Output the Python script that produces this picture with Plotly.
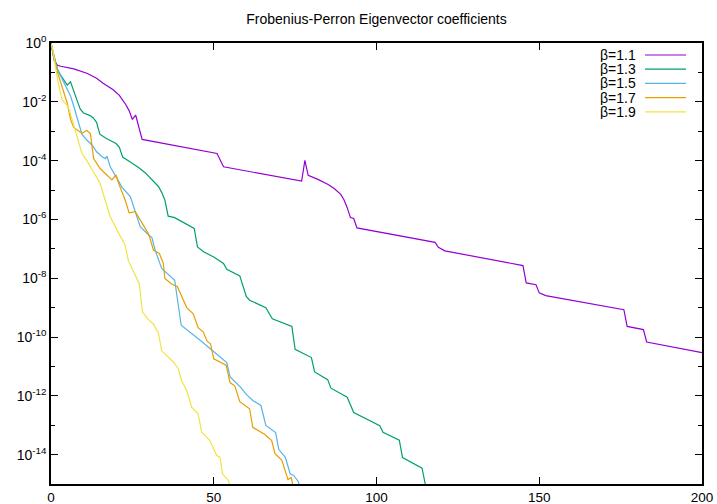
import plotly.graph_objects as go

# ---- data ----
beta_labels = ["β=1.1", "β=1.3", "β=1.5", "β=1.7", "β=1.9"]
colors = ["#9400d3", "#009e73", "#56b4e9", "#e69f00", "#f0e442"]

x_b11 = [0, 1, 2, 3, 7, 11, 14, 16, 19, 21, 23, 24, 25, 26, 28, 51, 53, 77, 78, 79, 82, 85, 87,
         89, 90, 91, 92, 93, 94, 118, 119, 121, 145, 146, 149, 150, 152, 176, 177, 182, 183, 200]
y_b11 = [1.0, 0.251, 0.174, 0.162, 0.132, 0.0933, 0.0631, 0.0427, 0.0263, 0.0166, 7.94e-3, 5.01e-3,
         2.51e-3, 3.55e-3, 5.25e-4, 1.74e-4, 6.17e-5, 2.0e-5, 1.02e-4, 3.16e-5, 2.29e-5, 1.58e-5,
         1.12e-5, 7.08e-6, 4.68e-6, 2.51e-6, 1.15e-6, 1.07e-6, 5.13e-7, 1.66e-7, 1.12e-7, 8.51e-8,
         2.69e-8, 6.92e-9, 6.03e-9, 3.16e-9, 2.57e-9, 8.51e-10, 2.29e-10, 1.78e-10, 6.76e-11, 2.95e-11]

x_b13 = [0, 1, 2, 3, 4, 5, 6, 7, 8, 9, 10, 12, 13, 14, 15, 17, 20, 21, 22, 24, 27, 29, 31, 33, 34,
         35, 36, 38, 44, 45, 47, 50, 53, 54, 58, 60, 61, 66, 68, 74, 75, 80, 81, 85, 86, 91, 93,
         101, 102, 107, 108, 114, 115, 116]
y_b13 = [0.955, 0.355, 0.126, 0.0794, 0.0562, 0.0372, 0.0479, 0.0219, 0.0112, 5.62e-3, 4.17e-3,
         3.39e-3, 2.82e-3, 2.0e-3, 7.94e-4, 5.62e-4, 3.8e-4, 2.82e-4, 1.32e-4, 9.55e-5, 5.75e-5,
         3.8e-5, 2.29e-5, 1.32e-5, 8.32e-6, 4.47e-6, 1.29e-6, 1.15e-6, 4.9e-7, 1.15e-7, 7.76e-8,
         5.25e-8, 3.16e-8, 2.0e-8, 1.2e-8, 2.4e-9, 1.78e-9, 1.0e-9, 4.17e-10, 2.29e-10, 3.8e-11,
         2.0e-11, 6.46e-12, 3.55e-12, 1.82e-12, 8.91e-13, 2.69e-13, 9.55e-14, 5.75e-14, 3.09e-14,
         7.94e-15, 3.47e-15, 9.55e-16, 3.16e-16]

x_b15 = [0, 1, 2, 3, 4, 5, 6, 7, 8, 9.5, 11, 12.6, 14, 15.7, 16.7, 17.2, 18.2, 20, 21.8, 24.4,
         26.4, 27.4, 30, 31, 32, 34, 38, 40, 46, 53, 54, 55, 58, 60, 62, 64.5, 66, 69, 70, 72,
         73.5, 74.5, 76, 77]
y_b15 = [0.955, 0.282, 0.126, 0.0759, 0.0447, 0.0251, 0.0158, 7.08e-3, 2.82e-3, 7.94e-4, 5.01e-4,
         3.39e-4, 2.0e-4, 1.35e-4, 1.17e-4, 1.41e-4, 6.17e-5, 2.82e-5, 1.26e-5, 5.89e-6, 1.23e-6,
         5.62e-7, 2.95e-7, 2.4e-7, 8.91e-8, 2.14e-8, 8.51e-9, 2.51e-10, 7.41e-11, 1.58e-11,
         1.35e-11, 4.37e-12, 2.09e-12, 1.12e-12, 6.92e-13, 4.68e-13, 9.77e-14, 5.62e-14, 1.48e-14,
         8.13e-15, 2.19e-15, 2.0e-15, 1.2e-15, 3.98e-16]

x_b17 = [0, 1, 2, 3, 4, 5, 6, 7, 9.5, 11, 12.1, 13.1, 15.1, 16.7, 18.7, 20, 20.8, 22.8, 24, 25.9,
         28.4, 30, 31.5, 33.3, 34.5, 35, 37, 38.8, 41.7, 43.7, 45.2, 46.8, 48, 49, 50, 53.8, 55,
         56.5, 58, 61, 62, 65.7, 67.8, 68.8, 70.9, 72.8, 73.8, 74.3, 75]
y_b17 = [0.955, 0.316, 0.1, 0.0447, 0.02, 8.91e-3, 2.51e-3, 1.32e-3, 8.51e-4, 1.05e-3, 8.32e-4,
         1.17e-4, 5.37e-5, 3.63e-5, 2.19e-5, 3.24e-5, 1.66e-5, 4.47e-6, 1.66e-6, 1.82e-6, 6.31e-7,
         3.16e-7, 8.91e-8, 6.92e-8, 3.16e-8, 9.77e-9, 6.31e-9, 5.25e-9, 1.0e-9, 6.17e-10,
         2.09e-10, 1.48e-10, 7.08e-11, 5.89e-11, 1.82e-11, 1.1e-11, 2.82e-12, 2.14e-12, 6.31e-13,
         3.63e-13, 8.51e-14, 4.79e-14, 3.02e-14, 1.07e-14, 6.46e-15, 1.41e-15, 1.66e-15, 8.91e-16,
         3.98e-16]

x_b19 = [0, 0.6, 1.5, 2.1, 3.4, 4.9, 5.7, 6.4, 8, 9.5, 11, 12.6, 15, 15.7, 17.2, 18.2, 20.7, 22.7,
         23.8, 26.4, 27.1, 28.1, 30, 31.4, 33, 34, 36.5, 37.6, 39.1, 40.1, 41.7, 43.2, 45.2, 46.3,
         48.8, 49.8, 50.9, 51.9, 52.7, 54.5, 55.5]
y_b19 = [0.955, 0.575, 0.126, 0.0501, 0.0115, 7.76e-3, 5.01e-3, 2.69e-3, 6.46e-4, 1.74e-4, 1.0e-4,
         4.79e-5, 1.78e-5, 1.0e-5, 2.69e-6, 1.23e-6, 3.55e-7, 1.41e-7, 3.8e-8, 1.05e-8, 6.61e-9,
         7.08e-10, 3.8e-10, 2.82e-10, 1.38e-10, 3.39e-11, 1.82e-11, 1.41e-11, 8.32e-12, 3.31e-12,
         1.51e-12, 4.07e-13, 2.45e-13, 5.75e-14, 3.02e-14, 1.78e-14, 9.33e-15, 8.13e-15, 2.19e-15,
         1.32e-15, 5.01e-16]

x_ticks = [0, 50, 100, 150, 200]
y_major = [1, 1e-2, 1e-4, 1e-6, 1e-8, 1e-10, 1e-12, 1e-14]
y_major_text = ["10<sup>0</sup>", "10<sup>-2</sup>", "10<sup>-4</sup>", "10<sup>-6</sup>",
                "10<sup>-8</sup>", "10<sup>-10</sup>", "10<sup>-12</sup>", "10<sup>-14</sup>"]
y_minor = [1e-1, 1e-3, 1e-5, 1e-7, 1e-9, 1e-11, 1e-13, 1e-15]

series = [(x_b11, y_b11), (x_b13, y_b13), (x_b15, y_b15), (x_b17, y_b17), (x_b19, y_b19)]

FONT = "Liberation Sans, Arial, sans-serif"

fig = go.Figure()
for (xs, ys), name, c in zip(series, beta_labels, colors):
    fig.add_trace(go.Scatter(x=xs, y=ys, mode="lines", name=name,
                             line=dict(color=c, width=1.2), showlegend=False))

# gnuplot-style key: text right-aligned, line sample to the right
W, H = 717, 504
ML, MR, MT, MB = 51, 15, 43, 20
pw, ph = W - ML - MR, H - MT - MB
legend_rows_px = [55, 69.2, 83.4, 97.6, 111.8]
for name, c, py in zip(beta_labels, colors, legend_rows_px):
    yp = (H - MB - py) / ph
    fig.add_annotation(x=(637 - ML) / pw, y=yp, xref="paper", yref="paper", text=name,
                       showarrow=False, xanchor="right", yanchor="middle",
                       borderpad=0, height=14,
                       font=dict(family=FONT, size=14, color="black"))
    fig.add_shape(type="line", xref="paper", yref="paper",
                  x0=(645 - ML) / pw, x1=(686 - ML) / pw, y0=yp, y1=yp,
                  line=dict(color=c, width=1.2))

fig.update_layout(
    width=W, height=H,
    margin=dict(l=ML, r=MR, t=MT, b=MB, autoexpand=False),
    paper_bgcolor="white", plot_bgcolor="white",
    title=dict(text="Frobenius-Perron Eigenvector coefficients", x=0.5, xref="paper",
               y=1 - 19 / H, yref="container", xanchor="center", yanchor="middle",
               font=dict(family=FONT, size=14, color="black")),
    font=dict(family=FONT, size=14, color="black"),
)
fig.update_xaxes(range=[0, 200], tickvals=x_ticks, ticks="inside", ticklen=7, tickwidth=1,
                 tickcolor="black", showline=True, linecolor="black", linewidth=1.5,
                 mirror="ticks", showgrid=False, zeroline=False, automargin=False,
                 tickfont=dict(family=FONT, size=13.5))
fig.update_yaxes(type="log", range=[-15, 0], tickvals=y_major, ticktext=y_major_text,
                 ticks="inside", ticklen=7, tickwidth=1, tickcolor="black",
                 showline=True, linecolor="black", linewidth=1.5, mirror="ticks",
                 showgrid=False, zeroline=False, automargin=False,
                 tickfont=dict(family=FONT, size=14),
                 minor=dict(tickvals=y_minor, ticks="inside", ticklen=4, tickcolor="black",
                            showgrid=False))

fig.write_html("out.html")
